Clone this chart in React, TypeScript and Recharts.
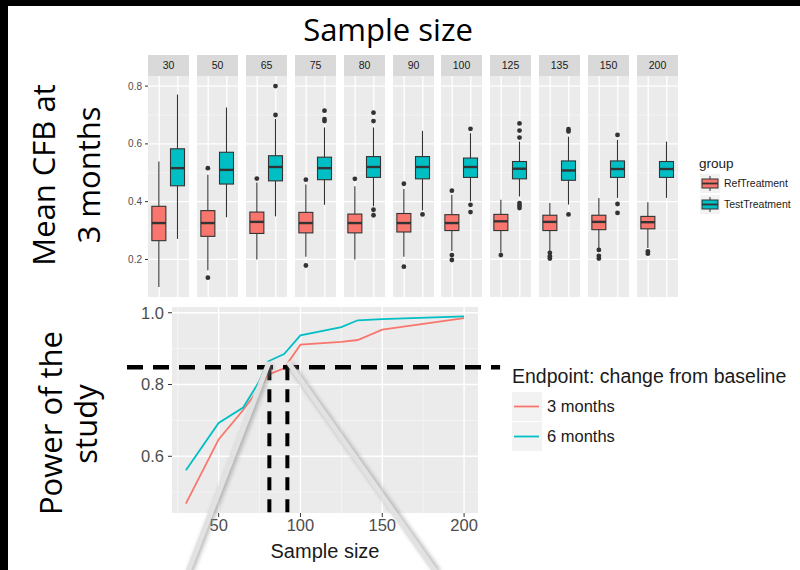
import React from 'react';
import {
  ComposedChart,
  Bar,
  LineChart,
  Line,
  XAxis,
  YAxis,
  CartesianGrid,
  ReferenceLine,
  Legend,
} from 'recharts';

// facets of the top plot
const SAMPLE_SIZES = [30, 50, 65, 75, 80, 90, 100, 125, 135, 150, 200];
const GROUPS = ['RefTreatment', 'TestTreatment'];
const GROUP_COLORS = ['#F8766D', '#00BFC4'];

// [lower whisker, Q1, median, Q3, upper whisker] per sample size
const REF_BOXES = [
  [0.105, 0.265, 0.326, 0.384, 0.539],
  [0.163, 0.28, 0.326, 0.369, 0.493],
  [0.2, 0.29, 0.33, 0.364, 0.466],
  [0.209, 0.292, 0.326, 0.363, 0.459],
  [0.2, 0.292, 0.326, 0.357, 0.453],
  [0.209, 0.295, 0.326, 0.359, 0.444],
  [0.229, 0.3, 0.326, 0.355, 0.424],
  [0.223, 0.3, 0.332, 0.356, 0.407],
  [0.229, 0.3, 0.33, 0.353, 0.395],
  [0.238, 0.303, 0.33, 0.353, 0.413],
  [0.24, 0.306, 0.329, 0.349, 0.398],
];
const REF_OUTLIERS = [
  [],
  [0.516, 0.137],
  [0.48],
  [0.476, 0.179],
  [0.479],
  [0.462, 0.175],
  [0.438, 0.215, 0.198],
  [0.215],
  [0.223, 0.211, 0.203],
  [0.233, 0.212, 0.203],
  [0.228, 0.22],
];
const TEST_BOXES = [
  [0.271, 0.455, 0.516, 0.583, 0.771],
  [0.346, 0.461, 0.51, 0.571, 0.726],
  [0.349, 0.472, 0.52, 0.559, 0.686],
  [0.389, 0.476, 0.516, 0.554, 0.657],
  [0.384, 0.484, 0.52, 0.556, 0.657],
  [0.37, 0.479, 0.52, 0.556, 0.645],
  [0.401, 0.484, 0.52, 0.551, 0.637],
  [0.418, 0.479, 0.514, 0.539, 0.608],
  [0.39, 0.474, 0.508, 0.541, 0.625],
  [0.413, 0.484, 0.513, 0.541, 0.614],
  [0.413, 0.484, 0.513, 0.539, 0.608],
];
const TEST_OUTLIERS = [
  [],
  [],
  [0.8, 0.7],
  [0.715, 0.686, 0.679],
  [0.708, 0.679, 0.372, 0.353],
  [0.356],
  [0.652, 0.389, 0.364],
  [0.671, 0.646, 0.622, 0.395, 0.387, 0.378],
  [0.651, 0.643, 0.356],
  [0.631, 0.392, 0.361],
  [],
];

// power curves (bottom plot)
const POWER_3M = [0.468, 0.647, 0.729, 0.79, 0.827, 0.845, 0.911, 0.919, 0.924, 0.953, 0.985];
const POWER_6M = [0.561, 0.693, 0.736, 0.81, 0.864, 0.885, 0.937, 0.96, 0.979, 0.982, 0.99];
const LINE_NAMES = ['3 months', '6 months'];
const TARGET_POWER = 0.848;
const CROSS_SIZES = [81, 92];

const GG = "'Liberation Sans', Arial, sans-serif";
const SLIDE = "'Open Sans', sans-serif";
const BOX_DOMAIN = [0.07, 0.835];
const POWER_DOMAIN = [0.442, 1.016];

const panels = SAMPLE_SIZES.map((n, i) => ({
  size: n,
  rows: [
    { pos: 1, color: GROUP_COLORS[0], stats: REF_BOXES[i], outliers: REF_OUTLIERS[i], range: [REF_BOXES[i][0], REF_BOXES[i][4]] },
    { pos: 2, color: GROUP_COLORS[1], stats: TEST_BOXES[i], outliers: TEST_OUTLIERS[i], range: [TEST_BOXES[i][0], TEST_BOXES[i][4]] },
  ],
}));

const powerData = SAMPLE_SIZES.map((n, i) => ({ size: n, m3: POWER_3M[i], m6: POWER_6M[i] }));

function BoxShape(props: any) {
  const { x, y, width, height, payload } = props;
  const [lo, q1, med, q3, hi] = payload.stats;
  const py = (v: number) => y + (height * (hi - v)) / (hi - lo);
  const cx = x + width / 2;
  return (
    <g>
      <line x1={cx} x2={cx} y1={py(hi)} y2={py(q3)} stroke="#333" strokeWidth={1.1} />
      <line x1={cx} x2={cx} y1={py(q1)} y2={py(lo)} stroke="#333" strokeWidth={1.1} />
      <rect x={x} y={py(q3)} width={width} height={py(q1) - py(q3)} fill={payload.color} stroke="#333" strokeWidth={1.1} />
      <line x1={x} x2={x + width} y1={py(med)} y2={py(med)} stroke="#333" strokeWidth={2.4} />
      {payload.outliers.map((o: number, k: number) => (
        <circle key={k} cx={cx} cy={py(o)} r={2.4} fill="#333" />
      ))}
    </g>
  );
}

function BoxPanel({ panel, index }: any) {
  const showAxis = index === 0;
  const axisW = 22;
  const left = Math.round(148 + index * 48.9);
  return (
    <>
      <div
        style={{
          position: 'absolute', left, top: 55, width: 41, height: 21, background: '#d9d9d9',
          fontFamily: GG, fontSize: 10.5, color: '#1a1a1a', textAlign: 'center', lineHeight: '21px',
        }}
      >
        {panel.size}
      </div>
      <div style={{ position: 'absolute', left: showAxis ? left - axisW : left, top: 76 }}>
        <ComposedChart width={showAxis ? 41 + axisW : 41} height={221} data={panel.rows} margin={{ top: 0, right: 0, left: 0, bottom: 0 }}>
          <CartesianGrid fill="#ebebeb" stroke="#f8f8f8" strokeWidth={0.6} horizontalValues={[0.1, 0.3, 0.5, 0.7]} vertical={false} />
          <CartesianGrid stroke="#ffffff" strokeWidth={1.3} horizontalValues={[0.2, 0.4, 0.6, 0.8]} verticalValues={[1, 2]} />
          <XAxis dataKey="pos" type="number" domain={[0.4, 2.6]} ticks={[1, 2]} hide />
          <YAxis
            type="number"
            domain={BOX_DOMAIN}
            ticks={[0.2, 0.4, 0.6, 0.8]}
            hide={!showAxis}
            width={axisW}
            axisLine={false}
            tickSize={3}
            tickMargin={3}
            tickLine={{ stroke: '#333' }}
            tick={{ fontSize: 10, fill: '#4d4d4d', fontFamily: GG }}
            tickFormatter={(v: number) => v.toFixed(1)}
          />
          <Bar dataKey="range" barSize={14} shape={BoxShape} isAnimationActive={false} />
        </ComposedChart>
      </div>
    </>
  );
}

function GroupLegend() {
  return (
    <svg style={{ position: 'absolute', left: 690, top: 150 }} width={110} height={70}>
      <text x={9} y={18} fontFamily={GG} fontSize={13.5} fill="#1a1a1a">group</text>
      {GROUPS.map((g, i) => {
        const top = 24 + i * 21;
        return (
          <g key={g}>
            <rect x={10} y={top} width={20} height={19} fill="#f2f2f2" />
            <line x1={20} x2={20} y1={top + 2} y2={top + 17} stroke="#333" strokeWidth={1} />
            <rect x={12} y={top + 5} width={16} height={9} fill={GROUP_COLORS[i]} stroke="#333" strokeWidth={1} />
            <line x1={12} x2={28} y1={top + 9.5} y2={top + 9.5} stroke="#333" strokeWidth={1.8} />
            <text x={34} y={top + 13} fontFamily={GG} fontSize={10.5} fill="#1a1a1a">{g}</text>
          </g>
        );
      })}
    </svg>
  );
}

function PowerLegend({ payload }: any) {
  return (
    <div style={{ fontFamily: GG, color: '#1a1a1a' }}>
      <div style={{ fontSize: 19.5, lineHeight: '26px', marginBottom: 2 }}>Endpoint: change from baseline</div>
      {(payload || []).map((p: any) => (
        <div key={p.value} style={{ display: 'flex', alignItems: 'center', height: 30 }}>
          <svg width={30} height={29}>
            <rect width={30} height={29} fill="#f2f2f2" />
            <line x1={2} x2={27} y1={14.5} y2={14.5} stroke={p.color} strokeWidth={1.8} />
          </svg>
          <span style={{ fontSize: 16.5, marginLeft: 5 }}>{p.value}</span>
        </div>
      ))}
    </div>
  );
}

export default function App() {
  return (
    <div style={{ position: 'absolute', left: 0, top: 0, width: 800, height: 570, background: '#fff', overflow: 'hidden' }}>
      <div style={{ position: 'absolute', left: 0, top: 0, width: 800, height: 6, background: '#000' }} />
      <div style={{ position: 'absolute', left: 0, top: 0, width: 8, height: 570, background: '#000' }} />

      {panels.map((p, i) => (
        <BoxPanel key={p.size} panel={p} index={i} />
      ))}
      <GroupLegend />

      <div style={{ position: 'absolute', left: 100, top: 300 }}>
        <LineChart width={700} height={270} data={powerData} margin={{ top: 7, right: 322, left: 0, bottom: 0 }}>
          <CartesianGrid fill="#ebebeb" stroke="#f8f8f8" strokeWidth={0.7} horizontalValues={[0.5, 0.7, 0.9]} verticalValues={[25, 75, 125, 175]} />
          <CartesianGrid stroke="#ffffff" strokeWidth={1.4} horizontalValues={[0.6, 0.8, 1.0]} verticalValues={[50, 100, 150, 200]} />
          <XAxis
            dataKey="size"
            type="number"
            domain={[21.5, 208.5]}
            ticks={[50, 100, 150, 200]}
            height={57}
            axisLine={false}
            tickSize={4}
            tickLine={{ stroke: '#333' }}
            tick={{ fontSize: 16.5, fill: '#4d4d4d', fontFamily: GG }}
            label={{ value: 'Sample size', position: 'insideBottom', offset: 12, style: { fontSize: 20, fill: '#1a1a1a', fontFamily: GG } }}
          />
          <YAxis
            type="number"
            domain={POWER_DOMAIN}
            ticks={[0.6, 0.8, 1.0]}
            width={72}
            axisLine={false}
            tickSize={4}
            tickMargin={4}
            tickLine={{ stroke: '#333' }}
            tick={{ fontSize: 16.5, fill: '#4d4d4d', fontFamily: GG }}
            tickFormatter={(v: number) => v.toFixed(1)}
          />
          <Line dataKey="m3" name={LINE_NAMES[0]} stroke={GROUP_COLORS[0]} strokeWidth={1.8} dot={false} isAnimationActive={false} />
          <Line dataKey="m6" name={LINE_NAMES[1]} stroke={GROUP_COLORS[1]} strokeWidth={1.8} dot={false} isAnimationActive={false} />
          <ReferenceLine
            segment={[{ x: -6, y: TARGET_POWER }, { x: 222, y: TARGET_POWER }]}
            ifOverflow="visible"
            stroke="#000"
            strokeWidth={4.5}
            strokeDasharray="16 10"
          />
          {CROSS_SIZES.map((s) => (
            <ReferenceLine
              key={s}
              segment={[{ x: s, y: TARGET_POWER }, { x: s, y: POWER_DOMAIN[0] }]}
              ifOverflow="visible"
              stroke="#000"
              strokeWidth={4}
              strokeDasharray="13 9"
            />
          ))}
          <Legend
            layout="vertical"
            align="center"
            verticalAlign="middle"
            content={PowerLegend}
            wrapperStyle={{ position: 'absolute', left: 412, top: 63, width: 290 }}
          />
        </LineChart>
      </div>

      <svg style={{ position: 'absolute', left: 0, top: 0, pointerEvents: 'none' }} width={800} height={570}>
        <defs>
          <filter id="blur" x="-20%" y="-20%" width="140%" height="140%">
            <feGaussianBlur stdDeviation="2" />
          </filter>
        </defs>
        <text x={388} y={41} textAnchor="middle" fontFamily={SLIDE} fontSize={31} fill="#000">Sample size</text>
        <text transform="translate(55,175) rotate(-90)" textAnchor="middle" fontFamily={SLIDE} fontSize={31} fill="#000">Mean CFB at</text>
        <text transform="translate(100,175) rotate(-90)" textAnchor="middle" fontFamily={SLIDE} fontSize={31} fill="#000">3 months</text>
        <text transform="translate(62,423) rotate(-90)" textAnchor="middle" fontFamily={SLIDE} fontSize={31} fill="#000">Power of the</text>
        <text transform="translate(97,424) rotate(-90)" textAnchor="middle" fontFamily={SLIDE} fontSize={31} fill="#000">study</text>
        <g filter="url(#blur)" opacity={0.6}>
          <line x1={271} y1={364} x2={190} y2={572} stroke="#888" strokeWidth={6} />
          <line x1={290} y1={364} x2={438} y2={572} stroke="#888" strokeWidth={6} />
        </g>
        <line x1={269} y1={362} x2={188} y2={572} stroke="#e2e2e2" strokeWidth={5} />
        <line x1={288} y1={362} x2={436} y2={572} stroke="#e2e2e2" strokeWidth={5} />
      </svg>
    </div>
  );
}
